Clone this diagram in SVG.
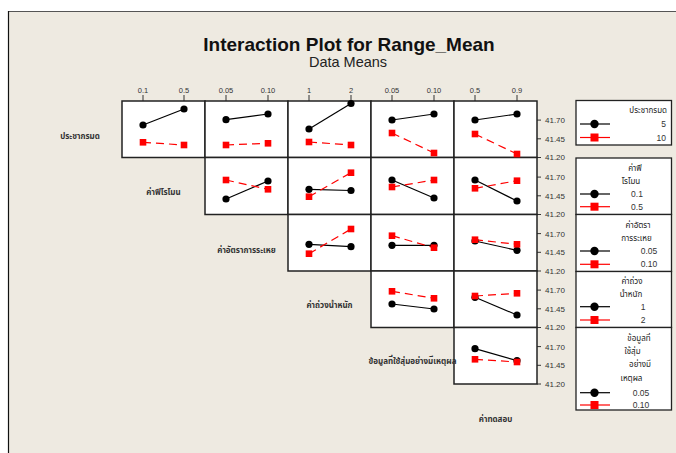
<svg xmlns="http://www.w3.org/2000/svg" width="676" height="453" viewBox="0 0 676 453">
  <defs>
    <style>
      .bg { fill: #eeeae1; }
      .panel { fill: #ffffff; stroke: #222222; stroke-width: 1.5; }
      .lgbox { fill: #ffffff; stroke: #222222; stroke-width: 1.3; }
      .tick { stroke: #333333; stroke-width: 1; }
      .tl { font-family: "Liberation Sans", Arial, sans-serif; font-size: 8px; fill: #333333; }
      .ttl { font-family: "Liberation Sans", Arial, sans-serif; font-size: 7.5px; fill: #333333; text-anchor: middle; }
      .th { font-family: "Noto Sans Thai", "Tahoma", "DejaVu Sans", "Liberation Sans", sans-serif; font-size: 8px; font-weight: bold; fill: #333333; text-anchor: middle; }
      .lg { font-family: "Noto Sans Thai", "Tahoma", "DejaVu Sans", "Liberation Sans", sans-serif; font-size: 8px; fill: #222222; text-anchor: middle; }
      .lgn { font-family: "Liberation Sans", Arial, sans-serif; font-size: 8.5px; fill: #333333; }
      .blk { stroke: #000000; stroke-width: 1.2; fill: none; }
      .red { stroke: #ff0000; stroke-width: 1.2; fill: none; stroke-dasharray: 8 5; }
      .redsolid { stroke: #ff0000; stroke-width: 1.2; fill: none; }
      .dot { fill: #000000; }
      .sq { fill: #ff0000; }
    </style>
    <circle id="c" r="3.6" class="dot"/>
    <rect id="s" x="-3.3" y="-3.3" width="6.6" height="6.6" class="sq"/>
    <circle id="cl" r="4.2" class="dot"/>
    <rect id="sl" x="-4" y="-4" width="8" height="8" class="sq"/>
  </defs>

  <!-- page and frame -->
  <rect x="0" y="0" width="676" height="453" fill="#ffffff"/>
  <rect x="9" y="12" width="667" height="441" class="bg"/>
  <line x1="8" y1="11.5" x2="676" y2="11.5" stroke="#555555" stroke-width="1.2"/>
  <line x1="8.5" y1="11" x2="8.5" y2="453" stroke="#111111" stroke-width="1.2"/>

  <!-- titles -->
  <g id="title">
    <text x="349" y="50.5" text-anchor="middle" font-family="'Liberation Sans', Arial, sans-serif" font-size="19" font-weight="bold" fill="#111111">Interaction Plot for Range_Mean</text>
    <text x="348" y="67" text-anchor="middle" font-family="'Liberation Sans', Arial, sans-serif" font-size="14.5" fill="#222222">Data Means</text>
  </g>

  <!-- top axis: factor levels per column -->
  <g id="top-axis">
    <line class="tick" x1="143" y1="95" x2="143" y2="101"/><line class="tick" x1="184" y1="95" x2="184" y2="101"/>
    <line class="tick" x1="226" y1="95" x2="226" y2="101"/><line class="tick" x1="268" y1="95" x2="268" y2="101"/>
    <line class="tick" x1="309" y1="95" x2="309" y2="101"/><line class="tick" x1="351" y1="95" x2="351" y2="101"/>
    <line class="tick" x1="392" y1="95" x2="392" y2="101"/><line class="tick" x1="434" y1="95" x2="434" y2="101"/>
    <line class="tick" x1="475" y1="95" x2="475" y2="101"/><line class="tick" x1="517" y1="95" x2="517" y2="101"/>
    <text class="ttl" x="143" y="93">0.1</text><text class="ttl" x="184" y="93">0.5</text>
    <text class="ttl" x="226" y="93">0.05</text><text class="ttl" x="268" y="93">0.10</text>
    <text class="ttl" x="309" y="93">1</text><text class="ttl" x="351" y="93">2</text>
    <text class="ttl" x="392" y="93">0.05</text><text class="ttl" x="434" y="93">0.10</text>
    <text class="ttl" x="475" y="93">0.5</text><text class="ttl" x="517" y="93">0.9</text>
  </g>

  <!-- right axis: Range_Mean scale per row -->
  <g id="right-axis">
    <g transform="translate(0,0)">
      <line class="tick" x1="537" y1="120.1" x2="541" y2="120.1"/><line class="tick" x1="537" y1="138.8" x2="541" y2="138.8"/><line class="tick" x1="537" y1="157.5" x2="541" y2="157.5"/>
      <text class="tl" x="545" y="123">41.70</text><text class="tl" x="545" y="141.7">41.45</text><text class="tl" x="545" y="160.4">41.20</text>
    </g>
    <g transform="translate(0,57)">
      <line class="tick" x1="537" y1="120.1" x2="541" y2="120.1"/><line class="tick" x1="537" y1="138.8" x2="541" y2="138.8"/><line class="tick" x1="537" y1="157.5" x2="541" y2="157.5"/>
      <text class="tl" x="545" y="123">41.70</text><text class="tl" x="545" y="141.7">41.45</text><text class="tl" x="545" y="160.4">41.20</text>
    </g>
    <g transform="translate(0,113.5)">
      <line class="tick" x1="537" y1="120.1" x2="541" y2="120.1"/><line class="tick" x1="537" y1="138.8" x2="541" y2="138.8"/><line class="tick" x1="537" y1="157.5" x2="541" y2="157.5"/>
      <text class="tl" x="545" y="123">41.70</text><text class="tl" x="545" y="141.7">41.45</text><text class="tl" x="545" y="160.4">41.20</text>
    </g>
    <g transform="translate(0,170)">
      <line class="tick" x1="537" y1="120.1" x2="541" y2="120.1"/><line class="tick" x1="537" y1="138.8" x2="541" y2="138.8"/><line class="tick" x1="537" y1="157.5" x2="541" y2="157.5"/>
      <text class="tl" x="545" y="123">41.70</text><text class="tl" x="545" y="141.7">41.45</text><text class="tl" x="545" y="160.4">41.20</text>
    </g>
    <g transform="translate(0,226.5)">
      <line class="tick" x1="537" y1="120.1" x2="541" y2="120.1"/><line class="tick" x1="537" y1="138.8" x2="541" y2="138.8"/><line class="tick" x1="537" y1="157.5" x2="541" y2="157.5"/>
      <text class="tl" x="545" y="123">41.70</text><text class="tl" x="545" y="141.7">41.45</text><text class="tl" x="545" y="160.4">41.20</text>
    </g>
  </g>

  <!-- panel frames (upper triangle) -->
  <g id="panels">
    <rect class="panel" x="122" y="101" width="83" height="56.5"/>
    <rect class="panel" x="205" y="101" width="83" height="56.5"/>
    <rect class="panel" x="288" y="101" width="83" height="56.5"/>
    <rect class="panel" x="371" y="101" width="83" height="56.5"/>
    <rect class="panel" x="454" y="101" width="83" height="56.5"/>
    <rect class="panel" x="205" y="157.5" width="83" height="57"/>
    <rect class="panel" x="288" y="157.5" width="83" height="57"/>
    <rect class="panel" x="371" y="157.5" width="83" height="57"/>
    <rect class="panel" x="454" y="157.5" width="83" height="57"/>
    <rect class="panel" x="288" y="214.5" width="83" height="56.5"/>
    <rect class="panel" x="371" y="214.5" width="83" height="56.5"/>
    <rect class="panel" x="454" y="214.5" width="83" height="56.5"/>
    <rect class="panel" x="371" y="271" width="83" height="56.5"/>
    <rect class="panel" x="454" y="271" width="83" height="56.5"/>
    <rect class="panel" x="454" y="327.5" width="83" height="56.5"/>
  </g>

  <!-- mean lines: black = low level, red dashed = high level -->
  <g id="connectors">
    <!-- row 1 -->
    <g id="r1c1"><line class="blk" x1="143" y1="125" x2="184" y2="109"/><line class="red" x1="143" y1="142.3" x2="184" y2="145"/>
      <use href="#c" x="143" y="125"/><use href="#c" x="184" y="109"/><use href="#s" x="143" y="142.3"/><use href="#s" x="184" y="145"/></g>
    <g id="r1c2"><line class="blk" x1="226" y1="119.7" x2="268" y2="114"/><line class="red" x1="226" y1="145" x2="268" y2="143.3"/>
      <use href="#c" x="226" y="119.7"/><use href="#c" x="268" y="114"/><use href="#s" x="226" y="145"/><use href="#s" x="268" y="143.3"/></g>
    <g id="r1c3"><line class="blk" x1="309" y1="129" x2="351" y2="103.5"/><line class="red" x1="309" y1="142" x2="351" y2="145"/>
      <use href="#c" x="309" y="129"/><use href="#c" x="351" y="103.5"/><use href="#s" x="309" y="142"/><use href="#s" x="351" y="145"/></g>
    <g id="r1c4"><line class="blk" x1="392" y1="120" x2="434" y2="114"/><line class="red" x1="392" y1="133" x2="434" y2="153"/>
      <use href="#c" x="392" y="120"/><use href="#c" x="434" y="114"/><use href="#s" x="392" y="133"/><use href="#s" x="434" y="153"/></g>
    <g id="r1c5"><line class="blk" x1="475" y1="120" x2="517" y2="114"/><line class="red" x1="475" y1="134" x2="517" y2="154"/>
      <use href="#c" x="475" y="120"/><use href="#c" x="517" y="114"/><use href="#s" x="475" y="134"/><use href="#s" x="517" y="154"/></g>
    <!-- row 2 -->
    <g id="r2c2"><line class="blk" x1="226" y1="199" x2="268" y2="181"/><line class="red" x1="226" y1="180" x2="268" y2="189.3"/>
      <use href="#c" x="226" y="199"/><use href="#c" x="268" y="181"/><use href="#s" x="226" y="180"/><use href="#s" x="268" y="189.3"/></g>
    <g id="r2c3"><line class="blk" x1="309" y1="189.3" x2="351" y2="190.5"/><line class="red" x1="309" y1="196.7" x2="351" y2="172.7"/>
      <use href="#c" x="309" y="189.3"/><use href="#c" x="351" y="190.5"/><use href="#s" x="309" y="196.7"/><use href="#s" x="351" y="172.7"/></g>
    <g id="r2c4"><line class="blk" x1="392" y1="180" x2="434" y2="198"/><line class="red" x1="392" y1="187" x2="434" y2="180"/>
      <use href="#c" x="392" y="180"/><use href="#c" x="434" y="198"/><use href="#s" x="392" y="187"/><use href="#s" x="434" y="180"/></g>
    <g id="r2c5"><line class="blk" x1="475" y1="180" x2="517" y2="201"/><line class="red" x1="475" y1="188.3" x2="517" y2="180.7"/>
      <use href="#c" x="475" y="180"/><use href="#c" x="517" y="201"/><use href="#s" x="475" y="188.3"/><use href="#s" x="517" y="180.7"/></g>
    <!-- row 3 -->
    <g id="r3c3"><line class="blk" x1="309" y1="244.3" x2="351" y2="246.7"/><line class="red" x1="309" y1="253.7" x2="351" y2="229"/>
      <use href="#c" x="309" y="244.3"/><use href="#c" x="351" y="246.7"/><use href="#s" x="309" y="253.7"/><use href="#s" x="351" y="229"/></g>
    <g id="r3c4"><line class="blk" x1="392" y1="245.3" x2="434" y2="245.3"/><line class="red" x1="392" y1="235.7" x2="434" y2="247.7"/>
      <use href="#c" x="392" y="245.3"/><use href="#c" x="434" y="245.3"/><use href="#s" x="392" y="235.7"/><use href="#s" x="434" y="247.7"/></g>
    <g id="r3c5"><line class="blk" x1="475" y1="241" x2="517" y2="250.3"/><line class="red" x1="475" y1="239.7" x2="517" y2="244.3"/>
      <use href="#c" x="475" y="241"/><use href="#c" x="517" y="250.3"/><use href="#s" x="475" y="239.7"/><use href="#s" x="517" y="244.3"/></g>
    <!-- row 4 -->
    <g id="r4c4"><line class="blk" x1="392" y1="304" x2="434" y2="309"/><line class="red" x1="392" y1="291.3" x2="434" y2="298.3"/>
      <use href="#c" x="392" y="304"/><use href="#c" x="434" y="309"/><use href="#s" x="392" y="291.3"/><use href="#s" x="434" y="298.3"/></g>
    <g id="r4c5"><line class="blk" x1="475" y1="297.3" x2="517" y2="315"/><line class="red" x1="475" y1="296" x2="517" y2="293.3"/>
      <use href="#c" x="475" y="297.3"/><use href="#c" x="517" y="315"/><use href="#s" x="475" y="296"/><use href="#s" x="517" y="293.3"/></g>
    <!-- row 5 -->
    <g id="r5c5"><line class="blk" x1="475" y1="348.7" x2="517" y2="360.7"/><line class="red" x1="475" y1="359.3" x2="517" y2="362"/>
      <use href="#c" x="475" y="348.7"/><use href="#c" x="517" y="360.7"/><use href="#s" x="475" y="359.3"/><use href="#s" x="517" y="362"/></g>
  </g>

  <!-- factor names on the diagonal -->
  <g id="factor-labels">
    <text class="th" x="80" y="138.5">ประชากรมด</text>
    <text class="th" x="163.5" y="195">ค่าฟีโรโมน</text>
    <text class="th" x="246.5" y="253">ค่าอัตราการระเหย</text>
    <text class="th" x="329.5" y="308">ค่าถ่วงน้ำหนัก</text>
    <text class="th" x="412.5" y="363.5">ข้อมูลที่ใช้สุ่มอย่างมีเหตุผล</text>
    <text class="th" x="495.5" y="422">ค่าทดสอบ</text>
  </g>

  <!-- legends -->
  <g id="legend-1">
    <rect class="lgbox" x="576" y="100.5" width="95.5" height="44.5"/>
    <text class="lg" x="643" y="113" style="text-anchor:end" transform="translate(24,0)">ประชากรมด</text>
    <line x1="580" y1="124" x2="610" y2="124" stroke="#000" stroke-width="1.2"/><use href="#cl" x="594.5" y="124"/>
    <line class="redsolid" x1="580" y1="137.5" x2="610" y2="137.5"/><use href="#sl" x="594.5" y="137.5"/>
    <text class="lgn" x="666" y="127" text-anchor="end">5</text>
    <text class="lgn" x="666" y="140.5" text-anchor="end">10</text>
  </g>
  <g id="legend-2">
    <rect class="lgbox" x="576" y="158" width="95.5" height="56.5"/>
    <text class="lg" x="635" y="170.5">ค่าฟี</text>
    <text class="lg" x="631" y="184">โรโมน</text>
    <line x1="580" y1="194" x2="610" y2="194" stroke="#000" stroke-width="1.2"/><use href="#cl" x="594.5" y="194"/>
    <line class="redsolid" x1="580" y1="206.7" x2="610" y2="206.7"/><use href="#sl" x="594.5" y="206.7"/>
    <text class="lgn" x="637" y="197" text-anchor="middle">0.1</text>
    <text class="lgn" x="637" y="209.7" text-anchor="middle">0.5</text>
  </g>
  <g id="legend-3">
    <rect class="lgbox" x="576" y="214.5" width="95.5" height="57"/>
    <text class="lg" x="638" y="227.5">ค่าอัตรา</text>
    <text class="lg" x="636.5" y="240.5">การระเหย</text>
    <line x1="580" y1="251" x2="610" y2="251" stroke="#000" stroke-width="1.2"/><use href="#cl" x="594.5" y="251"/>
    <line class="redsolid" x1="580" y1="264.3" x2="610" y2="264.3"/><use href="#sl" x="594.5" y="264.3"/>
    <text class="lgn" x="649" y="254" text-anchor="middle">0.05</text>
    <text class="lgn" x="649" y="267.3" text-anchor="middle">0.10</text>
  </g>
  <g id="legend-4">
    <rect class="lgbox" x="576" y="271.5" width="95.5" height="56"/>
    <text class="lg" x="632" y="283.5">ค่าถ่วง</text>
    <text class="lg" x="631" y="296.5">น้ำหนัก</text>
    <line x1="580" y1="306.7" x2="610" y2="306.7" stroke="#000" stroke-width="1.2"/><use href="#cl" x="594.5" y="306.7"/>
    <line class="redsolid" x1="580" y1="320" x2="610" y2="320"/><use href="#sl" x="594.5" y="320"/>
    <text class="lgn" x="643" y="309.7" text-anchor="middle">1</text>
    <text class="lgn" x="643" y="323" text-anchor="middle">2</text>
  </g>
  <g id="legend-5">
    <rect class="lgbox" x="576" y="327.5" width="95.5" height="82.5"/>
    <text class="lg" x="639" y="340.5">ข้อมูลที่</text>
    <text class="lg" x="632.5" y="353.5">ใช้สุ่ม</text>
    <text class="lg" x="640" y="367">อย่างมี</text>
    <text class="lg" x="631.5" y="380.5">เหตุผล</text>
    <line x1="580" y1="392.7" x2="610" y2="392.7" stroke="#000" stroke-width="1.2"/><use href="#cl" x="594.5" y="392.7"/>
    <line class="redsolid" x1="580" y1="405" x2="610" y2="405"/><use href="#sl" x="594.5" y="405"/>
    <text class="lgn" x="641" y="395.7" text-anchor="middle">0.05</text>
    <text class="lgn" x="641" y="408" text-anchor="middle">0.10</text>
  </g>
</svg>
